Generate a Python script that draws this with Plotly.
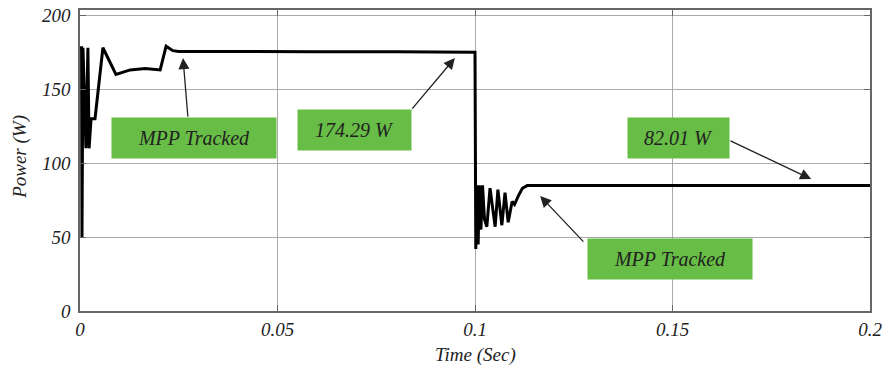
import plotly.graph_objects as go

# Time (s) and power (W)
time_s = [0.0, 0.0004, 0.0005, 0.00075, 0.0015, 0.0020, 0.0023, 0.0028, 0.0038, 0.0058,
          0.0091, 0.0127, 0.0165, 0.0203, 0.0218, 0.0235, 0.0250, 0.0400, 0.0600, 0.0800, 0.0999,
          0.1000, 0.1002, 0.1005, 0.1008, 0.1011, 0.1015, 0.1019, 0.1024, 0.1030, 0.1038,
          0.1051, 0.1058, 0.1068, 0.1076, 0.1084, 0.1094, 0.1100, 0.1110, 0.1120, 0.1132,
          0.1150, 0.1500, 0.2000]
power_w = [178, 178, 50, 178, 110, 178, 110, 130, 130, 178,
           160, 163, 164, 163, 179, 176, 175.5, 175.3, 175.3, 175.3, 175.3,
           175, 42, 85, 45, 85, 55, 85, 62, 57, 83,
           57, 82, 58, 80, 60, 74, 72, 78, 83, 84.8,
           84.8, 84.8, 84.8]

x_ticks = [0, 0.05, 0.1, 0.15, 0.2]
x_tick_labels = ["0", "0.05", "0.1", "0.15", "0.2"]
y_ticks = [0, 50, 100, 150, 200]
y_tick_labels = ["0", "50", "100", "150", "200"]

# Label boxes: text, centre (t, P)
box_texts = ["MPP Tracked", "174.29 W", "82.01 W", "MPP Tracked"]
box_x = [0.02886, 0.0694, 0.1514, 0.1494]
box_y = [116.9, 122.3, 116.9, 35.1]
box_w = [160, 109, 97, 160]

# Arrows: tail (t, P) -> head (t, P)
arrow_tail_x = [0.02734, 0.0838, 0.1643, 0.1278]
arrow_tail_y = [130.4, 135.8, 115.5, 45.9]
arrow_head_x = [0.02608, 0.0949, 0.1851, 0.1165]
arrow_head_y = [171.0, 171.0, 89.2, 77.7]

FONT = "Liberation Serif"
TXT = "#222"

fig = go.Figure()
fig.add_trace(go.Scatter(x=time_s, y=power_w, mode="lines",
                         line=dict(color="black", width=3), showlegend=False))

for tx, ty, hx, hy in zip(arrow_tail_x, arrow_tail_y, arrow_head_x, arrow_head_y):
    fig.add_annotation(x=hx, y=hy, ax=tx, ay=ty, xref="x", yref="y", axref="x", ayref="y",
                       text="", showarrow=True, arrowhead=2, arrowsize=1.7,
                       arrowwidth=1.3, arrowcolor="#222")

for txt, bx, by, bw in zip(box_texts, box_x, box_y, box_w):
    fig.add_annotation(x=bx, y=by, xref="x", yref="y", text=txt, showarrow=False,
                       width=bw, height=36, bgcolor="#67bd45", borderpad=2,
                       font=dict(family=FONT, size=20, color=TXT, style="italic"))

# Axis titles
fig.add_annotation(x=-0.076, y=0.512, xref="paper", yref="paper", text="Power (W)",
                   textangle=-90, showarrow=False, xanchor="center", yanchor="middle",
                   font=dict(family=FONT, size=19, color=TXT, style="italic"))
fig.add_annotation(x=0.5, y=-0.146, xref="paper", yref="paper", text="Time (Sec)",
                   showarrow=False, xanchor="center", yanchor="middle",
                   font=dict(family=FONT, size=19, color=TXT, style="italic"))

axis_common = dict(showline=True, linecolor="#666", linewidth=1.5, mirror="ticks",
                   ticks="inside", ticklen=6, tickcolor="#666", automargin=False,
                   showgrid=True, gridcolor="#aaa", gridwidth=1, zeroline=False,
                   ticklabeloverflow="allow",
                   tickfont=dict(family=FONT, size=19, color=TXT, style="italic"))

fig.update_xaxes(range=[0, 0.2], tickvals=x_ticks, ticktext=x_tick_labels, **axis_common)
fig.update_yaxes(range=[0, 203.5], tickvals=y_ticks, ticktext=y_tick_labels,
                 ticklabelstandoff=4, **axis_common)

fig.update_layout(width=882, height=370, margin=dict(l=80, r=12, t=10, b=59, autoexpand=False),
                  plot_bgcolor="white", paper_bgcolor="white", hovermode=False)

# remove the default page margin so the figure fills the window from its corner
fig.write_html("out.html", config={"displayModeBar": False},
               post_script="document.body.style.margin='0px';")
